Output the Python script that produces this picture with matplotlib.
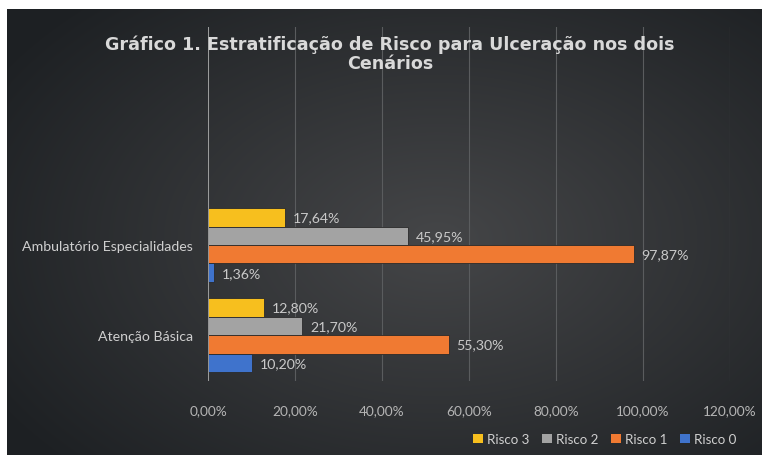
import matplotlib.pyplot as plt
from matplotlib.patches import Patch
import numpy as np

# data
categories = ["Atenção Básica", "Ambulatório Especialidades"]
series = ["Risco 3", "Risco 2", "Risco 1", "Risco 0"]
values = {
    "Risco 3": [12.80, 17.64],
    "Risco 2": [21.70, 45.95],
    "Risco 1": [55.30, 97.87],
    "Risco 0": [10.20, 1.36],
}
colors = {"Risco 3": "#f7bf1e", "Risco 2": "#a3a3a3",
          "Risco 1": "#f07a32", "Risco 0": "#3f73cc"}
xticks = [0, 20, 40, 60, 80, 100, 120]

W, H = 762, 456
fig = plt.figure(figsize=(W / 100, H / 100), dpi=100)
fig.patch.set_facecolor("white")

# dark radial background (chart area)
bg = fig.add_axes([7 / W, 0, 1 - 7 / W, 1 - 10 / H])
bg.set_axis_off()
yy, xx = np.mgrid[0:446, 0:755]
cx, cy = 430, 230
r = np.sqrt(((xx - cx) / 520) ** 2 + ((yy - cy) / 330) ** 2)
r = np.clip(r, 0, 1)
inner = np.array([0x45, 0x46, 0x48]) / 255
outer = np.array([0x1d, 0x20, 0x23]) / 255
img = inner[None, None, :] * (1 - r[..., None]) + outer[None, None, :] * r[..., None]
bg.imshow(img, aspect="auto", extent=[0, 1, 0, 1])
bg.set_xlim(0, 1)
bg.set_ylim(0, 1)

# plot area
top_px, bot_px = 28, 382
ax = fig.add_axes([208 / W, (H - bot_px) / H, (730 - 208) / W, (bot_px - top_px) / H])
ax.patch.set_alpha(0)

h = 0.205
offsets = {"Risco 3": 1.5 * h, "Risco 2": 0.5 * h, "Risco 1": -0.5 * h, "Risco 0": -1.5 * h}
ypos = np.arange(len(categories))
for s in series:
    y = ypos + offsets[s]
    ax.barh(y, values[s], height=h, color=colors[s], edgecolor="#2a2a2a",
            linewidth=0.6, zorder=3)
    for yi, v in zip(y, values[s]):
        ax.text(v + 1.8, yi, f"{v:.2f}%".replace(".", ","), va="center", ha="left",
                color="#c9c9c9", fontsize=10.2, family="Lato", zorder=4)

ax.set_xlim(0, 120)
ax.set_ylim(-0.51, 3.42)
ax.set_xticks(xticks)
ax.set_xticklabels([f"{t:.2f}%".replace(".", ",") for t in xticks])
ax.set_yticks(ypos)
ax.set_yticklabels(categories)
ax.tick_params(axis="x", length=0, pad=17, colors="#b5b5b5", labelsize=9.8)
ax.tick_params(axis="y", length=0, pad=11, colors="#cfcfcf", labelsize=10.2)
for lab in ax.get_xticklabels() + ax.get_yticklabels():
    lab.set_family("Lato")
for sp in ax.spines.values():
    sp.set_visible(False)
ax.grid(axis="x", color="#5a5c5e", linewidth=0.8, zorder=0)
ax.axvline(0, color="#a8a8a8", linewidth=1.2, zorder=5)

fig.text(390 / W, 1 - 45 / H,
         "Gráfico 1. Estratificação de Risco para Ulceração nos dois", ha="center",
         va="center", color="#d9d9d9", fontsize=12.6, fontweight="bold")
fig.text(390 / W, 1 - 64 / H, "Cenários", ha="center", va="center",
         color="#d9d9d9", fontsize=12.6, fontweight="bold")

handles = [Patch(facecolor=colors[s], label=s) for s in series]
leg = fig.legend(handles=handles, loc="center right", bbox_to_anchor=(748 / W, 1 - 440 / H),
                 ncol=4, frameon=False, handlelength=0.7, handleheight=0.7,
                 handletextpad=0.3, columnspacing=1.0, prop={"family": "Lato", "size": 9.6})
for t in leg.get_texts():
    t.set_color("#cfcfcf")

fig.savefig("out.png", dpi=100)
